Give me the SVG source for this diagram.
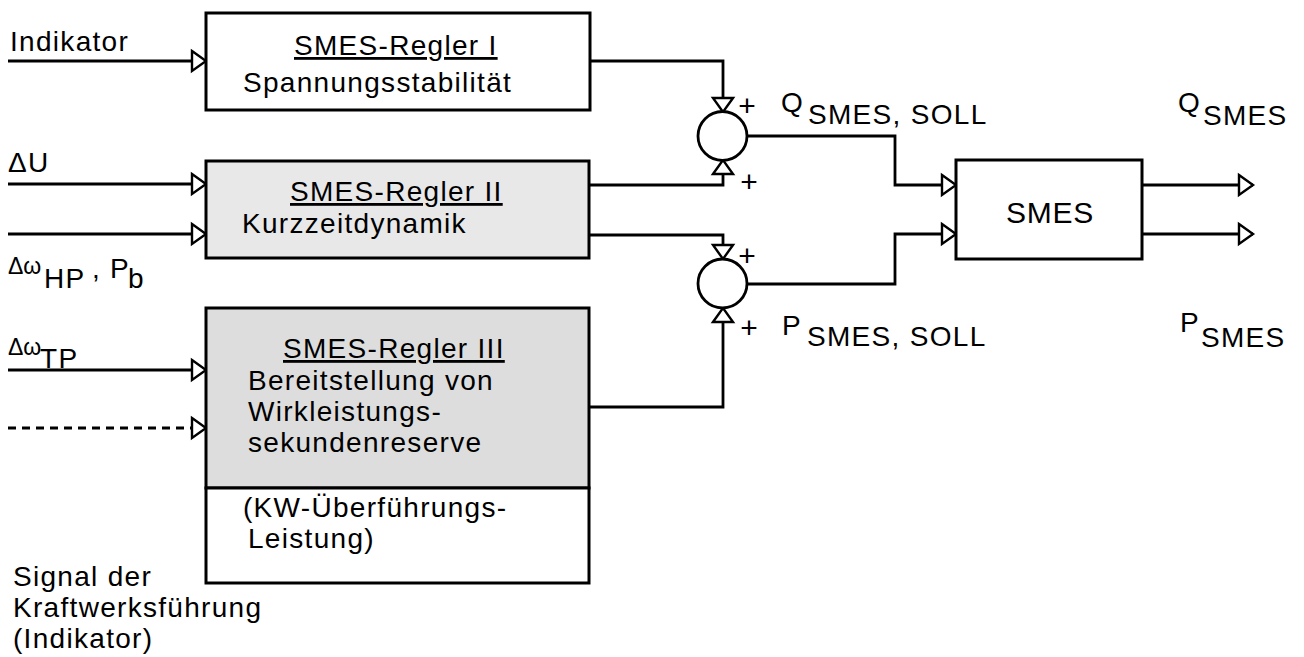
<svg xmlns="http://www.w3.org/2000/svg" width="1304" height="657" viewBox="0 0 1304 657">
<style>
text{font-family:"Liberation Sans",Arial,Helvetica,sans-serif;font-size:28px;letter-spacing:1.3px;fill:#000}
.sm{font-size:23px;letter-spacing:0}
.ln{stroke:#000;stroke-width:2.8;fill:none}
.dash{stroke-dasharray:8 6}
.box{stroke:#000;stroke-width:3}
.u{text-decoration:underline}
.plus{font-size:30px;text-anchor:middle;letter-spacing:0}
</style>
<defs>
<marker id="ah" markerUnits="userSpaceOnUse" markerWidth="16" markerHeight="22" refX="14" refY="10" orient="auto" overflow="visible">
<path d="M0,0 L14,10 L0,20 Z" fill="#fff" stroke="#000" stroke-width="2.4" stroke-linejoin="miter"/>
</marker>
</defs>
<rect width="1304" height="657" fill="#fff"/>

<g id="connectors">
<path class="ln" d="M8,61 H206" marker-end="url(#ah)"/>
<path class="ln" d="M8,184 H206" marker-end="url(#ah)"/>
<path class="ln" d="M8,234 H206" marker-end="url(#ah)"/>
<path class="ln" d="M8,370 H206" marker-end="url(#ah)"/>
<path class="ln dash" d="M8,428 H206" marker-end="url(#ah)"/>
<path class="ln" d="M590,61 H723 V112" marker-end="url(#ah)"/>
<path class="ln" d="M590,185 H723 V160" marker-end="url(#ah)"/>
<path class="ln" d="M590,235 H723 V259" marker-end="url(#ah)"/>
<path class="ln" d="M590,407 H723 V308" marker-end="url(#ah)"/>
<path class="ln" d="M748,136 H895 V185 H956" marker-end="url(#ah)"/>
<path class="ln" d="M748,284 H895 V234 H956" marker-end="url(#ah)"/>
<path class="ln" d="M1142,185 H1253" marker-end="url(#ah)"/>
<path class="ln" d="M1142,234 H1253" marker-end="url(#ah)"/>
</g>

<g id="labels">
<text x="10" y="51">Indikator</text>
<text x="8" y="172">ΔU</text>
<text class="sm" x="8" y="274">Δω</text>
<text x="44" y="288">HP</text>
<text x="92" y="278">,</text>
<text x="110" y="278">P</text>
<text x="128" y="288">b</text>
<text class="sm" x="8" y="355">Δω</text>
<text x="40" y="368">TP</text>
<text x="13" y="586">Signal der</text>
<text x="13" y="617">Kraftwerksführung</text>
<text x="13" y="648">(Indikator)</text>
<text x="781" y="112">Q</text>
<text x="808" y="124">SMES, SOLL</text>
<text x="782" y="335">P</text>
<text x="807" y="346">SMES, SOLL</text>
<text x="1178" y="112">Q</text>
<text x="1203" y="125">SMES</text>
<text x="1180" y="332">P</text>
<text x="1201" y="347">SMES</text>
</g>

<g id="regler1">
<rect class="box" x="206" y="13" width="384" height="97" fill="#fff"/>
<text class="u" x="294" y="55">SMES-Regler I</text>
<text x="243" y="92">Spannungsstabilität</text>
</g>

<g id="regler2">
<rect class="box" x="206" y="161" width="383" height="97" fill="#e8e8e8"/>
<text class="u" x="290" y="201">SMES-Regler II</text>
<text x="242" y="233">Kurzzeitdynamik</text>
</g>

<g id="regler3">
<rect class="box" x="206" y="308" width="383" height="180" fill="#dddddd"/>
<rect class="box" x="206" y="488" width="383" height="95" fill="#fff"/>
<text class="u" x="283" y="358">SMES-Regler III</text>
<text x="248" y="390">Bereitstellung von</text>
<text x="248" y="421">Wirkleistungs-</text>
<text x="248" y="452">sekundenreserve</text>
<text x="243" y="517">(KW-Überführungs-</text>
<text x="248" y="548">Leistung)</text>
</g>

<g id="sum-q">
<circle cx="722.5" cy="136" r="24.5" fill="#fff" stroke="#000" stroke-width="2.8"/>
<text class="plus" x="747" y="116">+</text>
<text class="plus" x="749" y="192">+</text>
</g>

<g id="sum-p">
<circle cx="722.5" cy="283.5" r="24.5" fill="#fff" stroke="#000" stroke-width="2.8"/>
<text class="plus" x="747" y="266">+</text>
<text class="plus" x="749" y="338">+</text>
</g>

<g id="smes">
<rect class="box" x="956" y="160" width="186" height="99" fill="#fff"/>
<text x="1050" y="223" text-anchor="middle" style="font-size:30px;letter-spacing:0.8px">SMES</text>
</g>
</svg>
